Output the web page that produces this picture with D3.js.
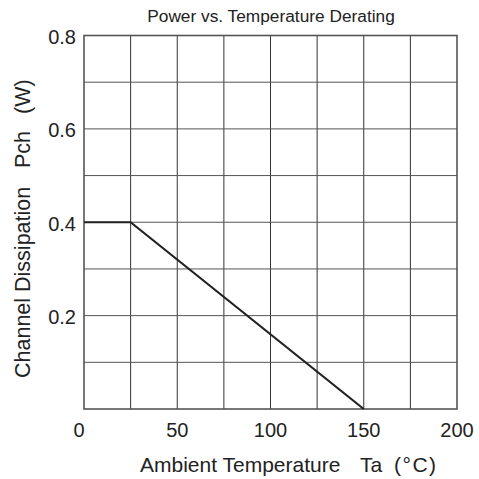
<!DOCTYPE html>
<html><head><meta charset="utf-8">
<script src="https://cdn.jsdelivr.net/npm/d3@7"></script>
<style>body{margin:0;background:#fff}svg{display:block}text{font-family:"Liberation Sans",Arial,sans-serif;fill:#222}</style>
</head><body><svg id="c" width="479" height="479"></svg>
<script>
const temps = [0, 25, 150];
const power = [0.4, 0.4, 0];
const xTickLabels = [0, 50, 100, 150, 200];
const yTickLabels = [0.2, 0.4, 0.6, 0.8];
const xGrid = [25, 50, 75, 100, 125, 150, 175];
const yGrid = [0.1, 0.2, 0.3, 0.4, 0.5, 0.6, 0.7];

const svg = d3.select("#c");
const L = 84, R = 457, T = 35.5, B = 409;
const x = d3.scaleLinear().domain([0, 200]).range([L, R]);
const y = d3.scaleLinear().domain([0, 0.8]).range([B, T]);

const g = svg.append("g");
g.selectAll(".vg").data(xGrid).join("line")
  .attr("x1", d => x(d)).attr("x2", d => x(d)).attr("y1", T).attr("y2", B)
  .attr("stroke", "#333").attr("stroke-width", 1);
g.selectAll(".hg").data(yGrid).join("line")
  .attr("y1", d => y(d)).attr("y2", d => y(d)).attr("x1", L).attr("x2", R)
  .attr("stroke", "#555").attr("stroke-width", 1);
g.append("rect").attr("x", L).attr("y", T).attr("width", R - L).attr("height", B - T)
  .attr("fill", "none").attr("stroke", "#555").attr("stroke-width", 1.6);

const line = d3.line().x(d => x(d[0])).y(d => y(d[1]));
g.append("path").datum(temps.map((t, i) => [t, power[i]]))
  .attr("d", line).attr("fill", "none").attr("stroke", "#222").attr("stroke-width", 2.2);

svg.selectAll(".xt").data(xTickLabels).join("text")
  .attr("x", d => x(d) - (d === 0 ? 5 : 0)).attr("y", 437)
  .attr("text-anchor", "middle").attr("font-size", 20).text(d => d);
svg.selectAll(".yt").data(yTickLabels).join("text")
  .attr("x", 76).attr("y", d => y(d) + 8.5)
  .attr("text-anchor", "end").attr("font-size", 20).text(d => d.toFixed(1));

svg.append("text").attr("x", 271).attr("y", 22).attr("text-anchor", "middle")
  .attr("font-size", 17.3).text("Power vs. Temperature Derating");

const xt = svg.append("text").attr("y", 472).attr("font-size", 21);
xt.append("tspan").attr("x", 140).text("Ambient Temperature");
xt.append("tspan").attr("x", 360).text("Ta");
xt.append("tspan").attr("x", 394).attr("letter-spacing", 1.5).text("(°C)");

const yt = svg.append("text").attr("transform", "translate(30,378) rotate(-90)").attr("font-size", 21.5);
yt.append("tspan").attr("x", 0).text("Channel Dissipation");
yt.append("tspan").attr("x", 210).text("Pch");
yt.append("tspan").attr("x", 264).text("(W)");
</script></body></html>
